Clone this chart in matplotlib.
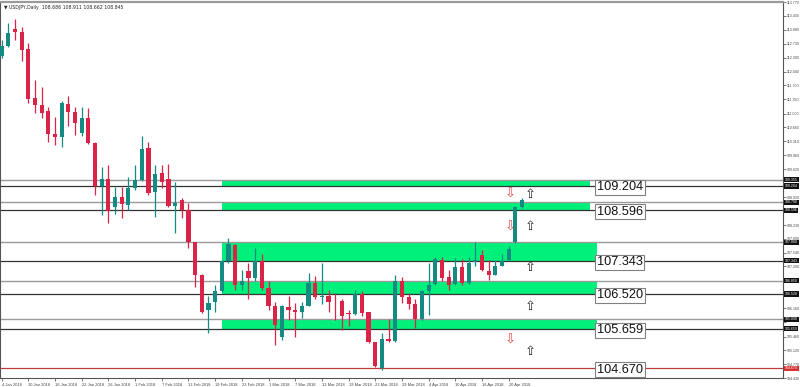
import matplotlib
matplotlib.use('Agg')
import matplotlib.pyplot as plt
import matplotlib.transforms as mtransforms
import numpy as np

# ---------------- data ----------------
date_labels = ['4 Jan 2018', '10 Jan 2018', '16 Jan 2018', '22 Jan 2018', '26 Jan 2018',
               '1 Feb 2018', '7 Feb 2018', '13 Feb 2018', '19 Feb 2018', '23 Feb 2018',
               '1 Mar 2018', '7 Mar 2018', '13 Mar 2018', '19 Mar 2018', '23 Mar 2018',
               '29 Mar 2018', '4 Apr 2018', '10 Apr 2018', '16 Apr 2018', '20 Apr 2018']
bars_per_label = 4

opens = [112.44, 112.68, 113.09, 113.03, 112.60, 111.39, 111.21, 111.05, 110.49, 110.41,
         111.24, 111.03, 110.51, 110.88, 110.26, 109.20, 109.37, 108.68, 108.92, 108.73,
         109.16, 109.35, 110.14, 109.04, 109.52, 109.37, 108.71, 108.86, 108.61, 107.80,
         107.00, 106.11, 106.31, 106.58, 107.33, 107.74, 106.75, 107.08, 106.91, 107.33,
         106.66, 106.23, 105.46, 106.19, 106.13, 106.06, 106.23, 106.80, 106.44, 106.47,
         106.33, 106.35, 106.04, 106.03, 106.52, 106.06, 105.32, 104.68, 105.41, 105.34,
         106.83, 106.44, 106.28, 105.90, 106.58, 106.77, 107.37, 106.94, 106.77, 107.19,
         106.79, 107.30, 107.49, 107.08, 107.00, 107.22, 107.35, 107.80, 108.686]
highs = [112.83, 113.26, 113.34, 113.14, 112.74, 111.83, 111.65, 111.17, 110.92, 111.30,
         111.44, 111.17, 111.17, 111.13, 110.30, 109.68, 109.72, 109.17, 109.17, 109.42,
         109.72, 110.44, 110.28, 109.72, 109.72, 109.75, 109.29, 108.90, 108.77, 107.82,
         107.02, 106.46, 106.75, 107.35, 107.91, 107.76, 107.12, 107.29, 107.66, 107.52,
         106.83, 106.33, 106.25, 106.47, 106.29, 106.33, 107.05, 106.97, 107.29, 106.62,
         106.54, 106.39, 106.13, 106.62, 106.58, 106.08, 105.33, 105.55, 105.90, 107.00,
         106.95, 106.54, 106.38, 106.62, 107.29, 107.43, 107.43, 107.12, 107.41, 107.38,
         107.43, 107.80, 107.62, 107.35, 107.35, 107.52, 107.70, 108.70, 108.911]
lows = [112.38, 112.65, 112.83, 112.31, 111.26, 111.01, 110.88, 110.30, 110.22, 110.16,
        110.68, 110.47, 110.43, 110.24, 108.98, 108.48, 108.29, 108.51, 108.40, 108.61,
        109.10, 109.33, 108.98, 108.44, 109.15, 108.69, 108.03, 108.40, 107.66, 106.70,
        106.04, 105.56, 106.08, 106.56, 107.29, 106.62, 106.62, 106.38, 106.83, 106.62,
        106.13, 105.26, 105.37, 105.86, 105.46, 105.92, 106.21, 106.39, 106.28, 106.06,
        105.88, 105.63, 105.71, 106.00, 105.96, 105.30, 104.70, 104.64, 105.33, 105.32,
        106.29, 106.14, 105.68, 105.88, 106.00, 106.75, 106.83, 106.62, 106.75, 106.75,
        106.77, 107.20, 107.08, 106.87, 106.98, 107.20, 107.33, 107.78, 108.662]
closes = [112.68, 112.99, 113.02, 112.58, 111.36, 111.20, 111.01, 110.49, 110.41, 111.26,
          111.03, 110.77, 110.88, 110.26, 109.20, 109.37, 108.59, 108.92, 108.75, 109.15,
          109.35, 110.11, 109.02, 109.50, 109.29, 108.71, 108.77, 108.61, 107.80, 107.00,
          106.08, 106.29, 106.58, 107.33, 107.76, 106.75, 106.85, 106.91, 107.33, 106.66,
          106.23, 105.75, 106.21, 106.11, 106.06, 106.23, 106.79, 106.44, 106.47, 106.31,
          106.31, 105.96, 106.03, 106.52, 106.04, 105.32, 104.72, 105.41, 105.34, 106.83,
          106.44, 106.28, 105.90, 106.58, 106.75, 107.38, 106.91, 106.75, 107.19, 106.79,
          107.29, 107.35, 107.12, 107.00, 107.20, 107.33, 107.63, 108.68, 108.845]

header = '\u25bc USDJPY,Daily  108.686 108.911 108.662 108.845'

zone_tops = [109.355, 108.790, 107.800, 106.850, 105.890]
zone_bottoms = [109.204, 108.596, 107.343, 106.520, 105.659]
zone_start = 33.0
zone_ends = [88.2, 88.2, 89.2, 89.2, 89.2]
red_level = 104.670

arrow_x = [76.2, 79.3, 76.2, 79.3, 79.3, 79.3, 76.2, 79.3]
arrow_y = [109.00, 108.98, 108.19, 108.19, 107.17, 106.21, 105.38, 105.09]
arrow_dir = ['down', 'up', 'down', 'up', 'up', 'up', 'down', 'up']

price_ticks = [104.430, 104.770, 105.120, 105.460, 105.810, 106.160, 106.500, 106.850,
               107.200, 107.540, 107.890, 108.230, 108.580, 108.920, 109.270, 109.620,
               109.960, 110.310, 110.660, 111.000, 111.350, 111.700, 112.040, 112.390,
               112.730, 113.080, 113.430, 113.770]

# ---------------- style ----------------
UP = '#148a83'
DN = '#d92448'
GREEN = '#00f07c'
SMALL = 'Liberation Sans'

W, H = 800, 387
fig = plt.figure(figsize=(W / 100, H / 100), dpi=100)
fig.patch.set_facecolor('white')
ax = fig.add_axes([0.0, 1 - 378 / H, 783 / W, 376 / H])

n = len(opens)
x = np.arange(n)
o = np.array(opens); h = np.array(highs); l = np.array(lows); c = np.array(closes)
bull = c >= o
cols = np.where(bull, UP, DN)

# zones
for top, bot, end in zip(zone_tops, zone_bottoms, zone_ends):
    ax.fill_between([zone_start, end], bot, top, color=GREEN, lw=0, zorder=1)

# level lines
for top, bot in zip(zone_tops, zone_bottoms):
    ax.axhline(top, color='#9a9a9a', lw=1.0, zorder=2)
    ax.axhline(bot, color='#333333', lw=0.9, zorder=2)
ax.axhline(red_level, color='#c0393b', lw=0.9, zorder=2)

# candles
ax.vlines(x, l, h, colors=cols, lw=0.9, zorder=3)
body_bot = np.minimum(o, c)
body_h = np.maximum(np.abs(c - o), 0.02)
ax.bar(x, body_h, bottom=body_bot, width=0.62, color=cols, lw=0, zorder=4)

# axes limits
ax.set_xlim(-0.255, 783 / 6.67 - 0.255)
ax.set_ylim(104.44, 113.77)

# level labels
blend = mtransforms.blended_transform_factory(ax.transAxes, ax.transData)
for lvl in zone_bottoms + [red_level]:
    ax.text(597 / 783, lvl - 0.04, '%.3f' % lvl, transform=blend, fontsize=9.2,
            family='Liberation Sans', color='#111111', ha='left', va='center', zorder=6,
            bbox=dict(boxstyle='square,pad=0.12', fc='white', ec='#808080', lw=0.8))

# arrows
for ax_, ay_, d in zip(arrow_x, arrow_y, arrow_dir):
    if d == 'up':
        ax.text(ax_, ay_, '\u21e7', fontsize=9.5, color='#222222', ha='center', va='center', zorder=6)
    else:
        ax.text(ax_, ay_, '\u21e9', fontsize=9.5, color='#e04848', ha='center', va='center', zorder=6)

# header
ax.text(0.005, 0.992, header, transform=ax.transAxes, fontsize=3.3, color='#222222',
        ha='left', va='top', zorder=7)

# right price axis (labels hidden where a level tag sits on top of them)
tag_levels = zone_tops + zone_bottoms + [red_level]
ax.yaxis.tick_right()
ax.set_yticks(price_ticks)
shown = []
for v in price_ticks:
    near = any(abs(v - t) < 0.09 for t in tag_levels)
    shown.append('' if near else '%.3f' % v)
ax.set_yticklabels(shown, family=SMALL)
ax.tick_params(axis='y', which='major', length=1.8, width=0.5, pad=0.8, labelsize=2.6,
               colors='#444444')
for lab in ax.get_yticklabels():
    lab.set_clip_on(False)

# level price tags on axis
for lvl in zone_tops + zone_bottoms:
    ax.text(1.0025, lvl, '%.3f' % lvl, transform=blend, fontsize=2.5, color='white',
            family=SMALL, ha='left', va='center', zorder=8, clip_on=False,
            bbox=dict(boxstyle='square,pad=0.2', fc='#111111', ec='none'))
ax.text(1.0025, red_level, '%.3f' % red_level, transform=blend, fontsize=2.5, color='white',
        family=SMALL, ha='left', va='center', zorder=8, clip_on=False,
        bbox=dict(boxstyle='square,pad=0.2', fc='#d83030', ec='none'))

# date axis
tick_pos = [k * bars_per_label for k in range(len(date_labels))]
ax.set_xticks(tick_pos)
ax.set_xticklabels(date_labels, ha='left', family=SMALL)
ax.tick_params(axis='x', which='major', length=2.5, width=0.5, pad=1.0, labelsize=2.9,
               colors='#444444')

for side, sp in ax.spines.items():
    sp.set_linewidth(0.8)
    sp.set_color('#555555')
ax.spines['top'].set_color('#9a9a9a')
ax.spines['top'].set_linewidth(1.6)
ax.set_facecolor('white')

fig.savefig('out.png', dpi=100, facecolor='white')
